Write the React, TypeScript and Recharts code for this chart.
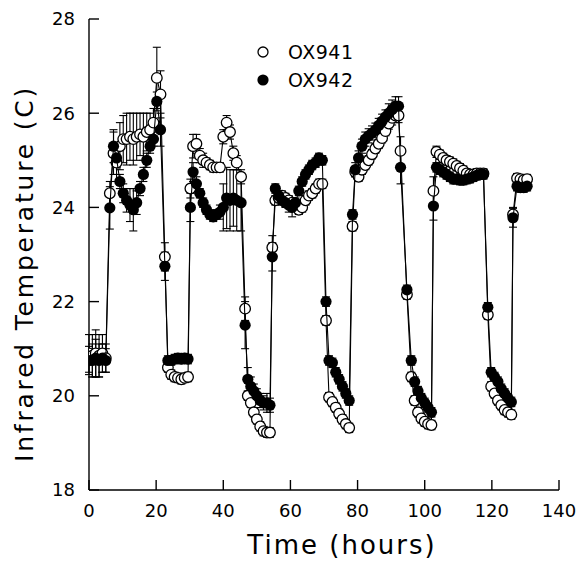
import React from 'react';
import { ScatterChart, Scatter, XAxis, YAxis, ErrorBar, Legend, Label } from 'recharts';

// ---- data (hours, temperature in C) ----
const hours = [
  0, 1, 2, 3, 4, 5,
  6.2, 7.3, 8.2, 9.2, 10.2, 11.2, 12.2, 13.2, 14.2, 15.2, 16.2, 17.2, 18.2, 19.2, 20.2, 21.3,
  22.6,
  23.5, 24.5, 25.5, 26.5, 27.5, 28.5, 29.5,
  30.2, 31, 32, 33, 34, 35, 36, 37, 38, 39, 40, 41, 42, 43, 44, 45.3,
  46.5,
  47.3, 48.2, 49.1, 50, 51, 52, 53, 53.9,
  54.6,
  55.5, 56.5, 57.5, 58.5, 59.5, 60.5, 61.5, 62.5, 63.5, 64.5, 65.5, 66.5, 67.5, 68.5, 69.5,
  70.6,
  71.5, 72.5, 73.5, 74.5, 75.5, 76.5, 77.5,
  78.5,
  79.3, 80.3, 81.3, 82.3, 83.3, 84.3, 85.3, 86.3, 87.3, 88.3, 89.3, 90.3, 91.3, 92.2,
  92.8, 94.7,
  96, 97, 98, 99, 100, 101, 102,
  102.6,
  103.5, 104.5, 105.5, 106.5, 107.5, 108.5, 109.5, 110.5, 111.5, 112.5, 113.5, 114.5, 115.5, 116.5, 117.5,
  118.8,
  119.8, 120.8, 121.8, 122.8, 123.8, 124.8, 125.8,
  126.3,
  127.5, 128.5, 129.5, 130.5,
];

const ox941Temp = [
  20.9, 20.85, 20.9, 20.85, 20.9, 20.8,
  24.3, 25.15, 24.95, 25.3, 25.45, 25.45, 25.5, 25.45, 25.5, 25.55, 25.5, 25.6, 25.65, 25.8, 26.75, 26.4,
  22.95,
  20.6, 20.45, 20.4, 20.38, 20.35, 20.38, 20.4,
  24.4, 25.3, 25.35, 25.1, 25.0, 24.95, 24.9, 24.85, 24.85, 24.85, 25.5, 25.8, 25.6, 25.15, 24.95, 24.65,
  21.85,
  20.0, 19.85, 19.65, 19.5, 19.35, 19.25, 19.22, 19.22,
  23.15,
  24.15, 24.2, 24.25, 24.2, 24.15, 24.1, 24.05, 23.95, 24.0, 24.15, 24.25, 24.3, 24.4, 24.5, 24.5,
  21.6,
  19.97, 19.87, 19.75, 19.62, 19.5, 19.4, 19.32,
  23.6,
  24.75, 24.65, 24.8, 24.9, 25.0, 25.13, 25.25, 25.35, 25.47, 25.62, 25.78, 25.9, 25.95, 25.95,
  25.2, 22.15,
  20.4, 19.9, 19.65, 19.52, 19.45, 19.4, 19.38,
  24.35,
  25.18, 25.12, 25.05, 25.0, 24.97, 24.93, 24.88, 24.83, 24.78, 24.72, 24.7, 24.7, 24.72, 24.72, 24.72,
  21.72,
  20.2, 20.05, 19.9, 19.8, 19.7, 19.65, 19.6,
  23.85,
  24.62, 24.6, 24.58, 24.6,
];

const ox941Err = [
  0.4, 0.45, 0.5, 0.45, 0.4, 0.3,
  0.25, 0.45, 0.4, 0.5, 0.5, 0.55, 0.5, 0.55, 0.5, 0.45, 0.5, 0.4, 0.35, 0.3, 0.65, 0.5,
  0.3,
  0.1, 0.1, 0.1, 0.1, 0.1, 0.1, 0.1,
  0.2, 0.25, 0.2, 0.15, 0.15, 0.1, 0.1, 0.1, 0.1, 0.1, 0.15, 0.15, 0.15, 0.15, 0.15, 0.15,
  0.25,
  0.1, 0.1, 0.1, 0.1, 0.1, 0.1, 0.1, 0.1,
  0.25,
  0.1, 0.1, 0.1, 0.1, 0.1, 0.1, 0.1, 0.1, 0.1, 0.1, 0.1, 0.1, 0.1, 0.1, 0.1,
  0.1,
  0.1, 0.1, 0.1, 0.1, 0.1, 0.1, 0.1,
  0.1,
  0.1, 0.1, 0.1, 0.1, 0.1, 0.1, 0.1, 0.1, 0.1, 0.1, 0.12, 0.15, 0.15, 0.15,
  0.3, 0.1,
  0.1, 0.1, 0.1, 0.1, 0.1, 0.1, 0.1,
  0.3,
  0.12, 0.1, 0.1, 0.1, 0.1, 0.1, 0.1, 0.1, 0.1, 0.1, 0.1, 0.1, 0.1, 0.1, 0.1,
  0.1,
  0.1, 0.1, 0.1, 0.1, 0.1, 0.1, 0.1,
  0.15,
  0.1, 0.1, 0.1, 0.1,
];

const ox942Temp = [
  20.75, 20.75, 20.8, 20.75, 20.8, 20.75,
  23.99, 25.3, 25.05, 24.55, 24.3, 24.15, 24.05, 23.95, 24.1, 24.4, 24.7, 25.0, 25.3, 25.45, 26.25, 25.65,
  22.75,
  20.75, 20.75, 20.78, 20.8, 20.78, 20.8, 20.78,
  24.0, 24.75, 24.5, 24.3, 24.1, 23.95, 23.85, 23.8, 23.85, 23.9, 24.0, 24.2, 24.15, 24.2, 24.15, 24.1,
  21.5,
  20.35, 20.2, 20.1, 20.0, 19.9, 19.85, 19.85, 19.8,
  22.95,
  24.4, 24.25, 24.15, 24.1, 24.05, 24.0, 24.1, 24.35, 24.55, 24.7, 24.8, 24.9, 24.95, 25.05, 25.0,
  22.0,
  20.75, 20.7, 20.5, 20.35, 20.2, 20.05, 19.9,
  23.85,
  24.8, 25.05, 25.3, 25.45, 25.52, 25.58, 25.64, 25.74, 25.83, 25.92, 26.0, 26.08, 26.15, 26.15,
  24.85, 22.25,
  20.75, 20.3, 20.1, 19.95, 19.85, 19.75, 19.65,
  24.03,
  24.85, 24.8, 24.75, 24.7, 24.65, 24.6, 24.6, 24.58, 24.58, 24.6, 24.62, 24.65, 24.68, 24.7, 24.7,
  21.88,
  20.5, 20.4, 20.3, 20.15, 20.05, 19.95, 19.87,
  23.78,
  24.45, 24.42, 24.42, 24.45,
];

const ox942Err = [
  0.3, 0.35, 0.4, 0.35, 0.3, 0.25,
  0.45, 0.35, 0.2, 0.15, 0.2, 0.25, 0.35, 0.45, 0.25, 0.15, 0.15, 0.15, 0.15, 0.15, 0.2, 0.35,
  0.3,
  0.1, 0.1, 0.1, 0.1, 0.1, 0.1, 0.1,
  0.3, 0.2, 0.15, 0.1, 0.1, 0.1, 0.1, 0.1, 0.1, 0.15, 0.5, 0.65, 0.65, 0.6, 0.65, 0.6,
  0.5,
  0.25, 0.2, 0.15, 0.15, 0.15, 0.15, 0.2, 0.15,
  0.3,
  0.1, 0.1, 0.1, 0.1, 0.15, 0.2, 0.1, 0.1, 0.1, 0.1, 0.1, 0.1, 0.1, 0.1, 0.1,
  0.1,
  0.1, 0.1, 0.1, 0.1, 0.1, 0.1, 0.1,
  0.1,
  0.15, 0.15, 0.15, 0.15, 0.15, 0.15, 0.15, 0.15, 0.15, 0.15, 0.2, 0.2, 0.2, 0.2,
  0.35, 0.1,
  0.1, 0.1, 0.1, 0.1, 0.1, 0.1, 0.1,
  0.3,
  0.1, 0.1, 0.1, 0.1, 0.1, 0.1, 0.1, 0.1, 0.1, 0.1, 0.1, 0.1, 0.1, 0.1, 0.1,
  0.1,
  0.1, 0.1, 0.1, 0.1, 0.1, 0.1, 0.1,
  0.2,
  0.1, 0.1, 0.1, 0.1,
];

const seriesNames = ['OX941', 'OX942'];
const xTicks = [0, 20, 40, 60, 80, 100, 120, 140];
const yTicks = [18, 20, 22, 24, 26, 28];
const xTitle = 'Time (hours)';
const yTitle = 'Infrared Temperature (C)';

const build = (temps: number[], errs: number[]) =>
  hours.map((t, i) => ({ t, v: temps[i], e: errs[i] }));

const ox941Data = build(ox941Temp, ox941Err);
const ox942Data = build(ox942Temp, ox942Err);

const FONT = '"DejaVu Sans", sans-serif';
const AX = { stroke: '#000', strokeWidth: 1.4 };

const OpenDot = (p: any) => (
  <circle cx={p.cx} cy={p.cy} r={5.3} fill="#fff" stroke="#000" strokeWidth={1.3} />
);
const FillDot = (p: any) => <circle cx={p.cx} cy={p.cy} r={5.6} fill="#000" />;

const LegendBox = () => (
  <div style={{ fontFamily: FONT, fontSize: 19, color: '#000', lineHeight: '28px' }}>
    {seriesNames.map((n, i) => (
      <div key={n} style={{ display: 'flex', alignItems: 'center', height: 28 }}>
        <svg width={12} height={12}>
          {i === 0 ? (
            <circle cx={6} cy={6} r={5} fill="#fff" stroke="#000" strokeWidth={1.3} />
          ) : (
            <circle cx={6} cy={6} r={5.6} fill="#000" />
          )}
        </svg>
        <span style={{ marginLeft: 19, letterSpacing: 0.5 }}>{n}</span>
      </div>
    ))}
  </div>
);

export default function App() {
  return (
    <div style={{ position: 'absolute', left: 0, top: 0, width: 581, height: 561, background: '#fff' }}>
      <ScatterChart width={581} height={561} margin={{ top: 19, right: 22, bottom: 0, left: 0 }}>
        <XAxis
          xAxisId="b"
          type="number"
          dataKey="t"
          domain={[0, 140]}
          ticks={xTicks}
          allowDataOverflow
          orientation="bottom"
          height={71}
          tickSize={-10}
          tickMargin={24}
          axisLine={AX}
          tickLine={AX}
          tick={{ fill: '#000', fontSize: 18, fontFamily: FONT }}
        >
          <Label
            content={(p: any) => {
              const vb = p.viewBox;
              return (
                <text
                  x={vb.x + vb.width / 2 + 18}
                  y={vb.y + 64}
                  textAnchor="middle"
                  fontFamily={FONT}
                  fontSize={26}
                  letterSpacing={2}
                  fill="#000"
                >
                  {xTitle}
                </text>
              );
            }}
          />
        </XAxis>
        <XAxis
          xAxisId="top"
          type="number"
          dataKey="t"
          domain={[0, 140]}
          ticks={xTicks}
          allowDataOverflow
          orientation="top"
          height={0}
          tickSize={-8}
          tick={false}
          axisLine={AX}
          tickLine={AX}
        />
        <YAxis
          yAxisId="l"
          type="number"
          dataKey="v"
          domain={[18, 28]}
          ticks={yTicks}
          allowDataOverflow
          width={89}
          tickSize={-10}
          tickMargin={24}
          axisLine={AX}
          tickLine={AX}
          tick={{ fill: '#000', fontSize: 18, fontFamily: FONT }}
        >
          <Label
            content={(p: any) => {
              const vb = p.viewBox;
              const cx = 33;
              const cy = vb.y + vb.height / 2 + 19;
              return (
                <text
                  x={cx}
                  y={cy}
                  transform={`rotate(-90, ${cx}, ${cy})`}
                  textAnchor="middle"
                  fontFamily={FONT}
                  fontSize={25}
                  letterSpacing={2.8}
                  fill="#000"
                >
                  {yTitle}
                </text>
              );
            }}
          />
        </YAxis>
        <YAxis
          yAxisId="r"
          type="number"
          dataKey="v"
          domain={[18, 28]}
          ticks={yTicks}
          allowDataOverflow
          orientation="right"
          width={0}
          tickSize={-8}
          tick={false}
          axisLine={AX}
          tickLine={AX}
        />
        <Legend
          layout="horizontal"
          verticalAlign="middle"
          align="center"
          wrapperStyle={{ left: 257, top: 38, width: 140 }}
          content={() => <LegendBox />}
        />
        <Scatter
          name={seriesNames[0]}
          data={ox941Data}
          xAxisId="b"
          yAxisId="l"
          shape={OpenDot}
          line={{ stroke: '#000', strokeWidth: 1.1 }}
          lineJointType="linear"
          isAnimationActive={false}
        >
          <ErrorBar dataKey="e" direction="y" width={4} stroke="#000" strokeWidth={1.1} />
        </Scatter>
        <Scatter
          name={seriesNames[1]}
          data={ox942Data}
          xAxisId="b"
          yAxisId="l"
          shape={FillDot}
          line={{ stroke: '#000', strokeWidth: 1.1 }}
          lineJointType="linear"
          isAnimationActive={false}
        >
          <ErrorBar dataKey="e" direction="y" width={4} stroke="#000" strokeWidth={1.1} />
        </Scatter>
      </ScatterChart>
    </div>
  );
}
